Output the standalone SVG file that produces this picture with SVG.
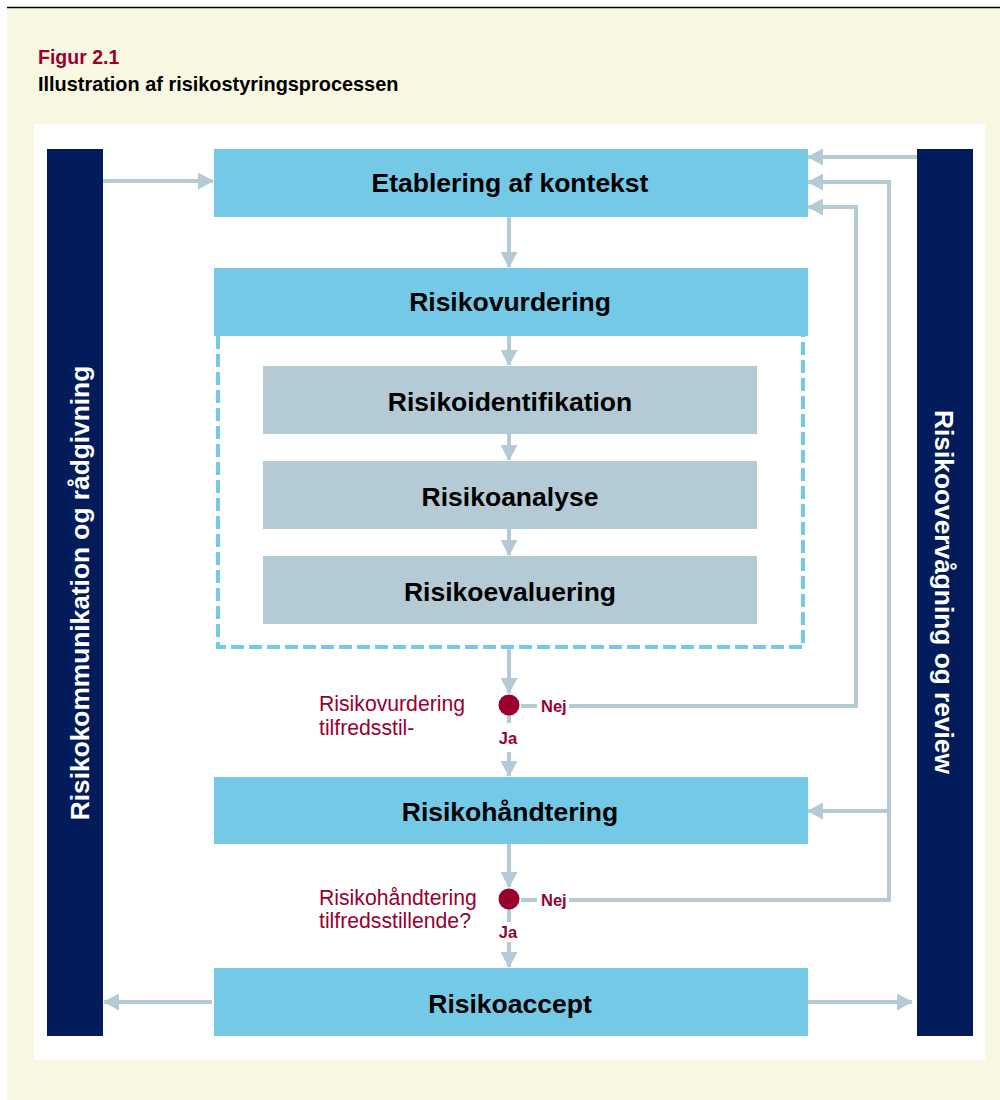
<svg xmlns="http://www.w3.org/2000/svg" width="1000" height="1100" viewBox="0 0 1000 1100">
  <style>
    .bar { fill: #021C5B; }
    .step { fill: #74C9E6; }
    .sub { fill: #B4CBD6; }
    .lbl { font-family: "Liberation Sans", Arial, sans-serif; font-weight: bold; font-size: 26.5px; fill: #000000; text-anchor: middle; }
    .side { font-family: "Liberation Sans", Arial, sans-serif; font-weight: bold; font-size: 26.3px; fill: #FFFFFF; text-anchor: middle; }
    .q { font-family: "Liberation Sans", Arial, sans-serif; font-size: 21.2px; fill: #98002E; }
    .yn { font-family: "Liberation Sans", Arial, sans-serif; font-weight: bold; font-size: 16.5px; fill: #98002E; }
    .ln { fill: none; stroke: #B4CBD6; stroke-width: 4; }
    .arr { marker-end: url(#head); }
  </style>
  <defs>
    <marker id="head" viewBox="0 0 16 17" refX="15" refY="8.5" markerWidth="16" markerHeight="17" markerUnits="userSpaceOnUse" orient="auto">
      <path d="M0,0 L16,8.5 L0,17 z" fill="#B4CBD6"/>
    </marker>
  </defs>

  <!-- page background and frame -->
  <rect x="7" y="7" width="993" height="1093" fill="#F8F7E1"/>
  <line x1="7" y1="7.5" x2="1000" y2="7.5" stroke="#000000" stroke-width="1.5"/>
  <text x="38" y="64" font-family="Liberation Sans, Arial, sans-serif" font-weight="bold" font-size="19.5" fill="#98002E">Figur 2.1</text>
  <text x="38" y="90.5" font-family="Liberation Sans, Arial, sans-serif" font-weight="bold" font-size="19.9" fill="#000000">Illustration af risikostyringsprocessen</text>
  <rect x="34" y="124" width="951" height="936" fill="#FFFFFF"/>

  <!-- connectors -->
  <g id="connectors">
    <path class="ln arr" d="M103,181 H213"/>
    <path class="ln arr" d="M509,217 V267"/>
    <path class="ln arr" d="M509,336 V365"/>
    <path class="ln arr" d="M509,434 V460"/>
    <path class="ln arr" d="M509,529 V555"/>
    <path class="ln arr" d="M509,648 V693"/>
    <path class="ln" d="M509,715 V723"/>
    <path class="ln arr" d="M509,752 V776"/>
    <path class="ln arr" d="M509,844 V887"/>
    <path class="ln" d="M509,909 V922"/>
    <path class="ln arr" d="M509,942 V967"/>
    <path class="ln" d="M521,706 H537"/>
    <path class="ln arr" d="M569,706 H856 V207 H808"/>
    <path class="ln" d="M521,900 H537"/>
    <path class="ln arr" d="M569,900 H889 V182 H808"/>
    <path class="ln arr" d="M889,811 H808"/>
    <path class="ln arr" d="M917,157 H808"/>
    <path class="ln arr" d="M212,1002 H104"/>
    <path class="ln arr" d="M808,1002 H912"/>
  </g>

  <!-- dashed frame around the assessment steps -->
  <path d="M218,336 V647 H803 V336" fill="none" stroke="#74C9E6" stroke-width="4" stroke-dasharray="13 5"/>

  <g id="communication">
    <rect class="bar" x="47" y="149" width="56" height="887"/>
    <text class="side" transform="translate(89,593) rotate(-90)">Risikokommunikation og rådgivning</text>
  </g>
  <g id="monitoring">
    <rect class="bar" x="917" y="149" width="56" height="887"/>
    <text class="side" transform="translate(935,592) rotate(90)">Risikoovervågning og review</text>
  </g>

  <g id="context">
    <rect class="step" x="214" y="149" width="594" height="68"/>
    <text class="lbl" x="510" y="192">Etablering af kontekst</text>
  </g>
  <g id="assessment">
    <rect class="step" x="214" y="268" width="594" height="68"/>
    <text class="lbl" x="510" y="311">Risikovurdering</text>
  </g>
  <g id="identification">
    <rect class="sub" x="263" y="366" width="494" height="68"/>
    <text class="lbl" x="510" y="411">Risikoidentifikation</text>
  </g>
  <g id="analysis">
    <rect class="sub" x="263" y="461" width="494" height="68"/>
    <text class="lbl" x="510" y="506">Risikoanalyse</text>
  </g>
  <g id="evaluation">
    <rect class="sub" x="263" y="556" width="494" height="68"/>
    <text class="lbl" x="510" y="601">Risikoevaluering</text>
  </g>

  <g id="decision-assessment">
    <circle cx="509" cy="705" r="10.5" fill="#98002E"/>
    <text class="q" x="319" y="711">Risikovurdering</text>
    <text class="q" x="319" y="735">tilfredsstil-</text>
    <text class="yn" x="541" y="712">Nej</text>
    <text class="yn" x="508" y="744" text-anchor="middle">Ja</text>
  </g>

  <g id="treatment">
    <rect class="step" x="214" y="777" width="594" height="67"/>
    <text class="lbl" x="510" y="821">Risikohåndtering</text>
  </g>

  <g id="decision-treatment">
    <circle cx="509" cy="899" r="10.5" fill="#98002E"/>
    <text class="q" x="319" y="905">Risikohåndtering</text>
    <text class="q" x="319" y="928">tilfredsstillende?</text>
    <text class="yn" x="541" y="906">Nej</text>
    <text class="yn" x="508" y="938" text-anchor="middle">Ja</text>
  </g>

  <g id="acceptance">
    <rect class="step" x="214" y="968" width="594" height="68"/>
    <text class="lbl" x="510" y="1013">Risikoaccept</text>
  </g>
</svg>
